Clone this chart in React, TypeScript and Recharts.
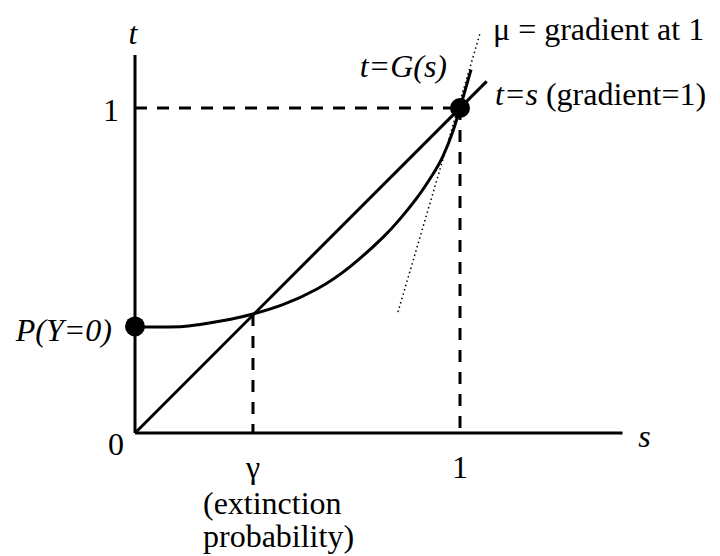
import React from 'react';
import { ComposedChart, Line, XAxis, YAxis, ReferenceLine, ReferenceDot } from 'recharts';

// G(s) curve
const gS = [0, 0.05, 0.14, 0.194, 0.298, 0.363, 0.455, 0.56, 0.662, 0.763, 0.815, 0.868, 0.917, 0.948, 0.978, 1, 1.034];
const gT = [0.328, 0.326, 0.327, 0.333, 0.351, 0.366, 0.395, 0.443, 0.512, 0.602, 0.658, 0.724, 0.797, 0.853, 0.928, 1, 1.118];
// t = s line
const identityS = [0, 1.082];
// tangent at 1 (dotted)
const tangentS = [0.809, 1.062];
const tangentT = [0.372, 1.231];

const gamma = 0.363;
const gAtGamma = 0.366;
const p0 = 0.328;

const xTicks = [gamma, 1];
const xTickLabels = ['γ', '1'];
const yTicks = [0, 1];
const yTickLabels = ['0', '1'];

const xMax = 1.5;
const yAxisTop = 1.163;
const yMax = 1.26;

const gData = gS.map((s, i) => ({ s, t: gT[i] }));
const idData = identityS.map((s) => ({ s, t: s }));
const tanData = tangentS.map((s, i) => ({ s, t: tangentT[i] }));

const T = (p: any) => (
  <text x={p.x} y={p.y} textAnchor={p.anchor || 'start'} style={{ fontFamily: 'Liberation Serif', fontSize: 32 }}>
    {p.children}
  </text>
);

const XTick = (props: any) => {
  const { x, y, payload } = props;
  const i = xTicks.indexOf(payload.value);
  const label = xTickLabels[i];
  return (
    <g>
      <T x={x} y={y + 37} anchor="middle">{label}</T>
      {label === 'γ' && <T x={x - 50} y={y + 73}>(extinction</T>}
      {label === 'γ' && <T x={x - 50} y={y + 106}>probability)</T>}
    </g>
  );
};

const YTick = (props: any) => {
  const { x, y, payload } = props;
  const i = yTicks.indexOf(payload.value);
  const label = yTickLabels[i];
  const dx = label === '0' ? -11 : -16;
  const dy = label === '0' ? 22 : 13;
  return <T x={x + dx} y={y + dy} anchor="middle">{label}</T>;
};

const txt = (dx: number, dy: number, anchor: string, children: React.ReactNode) => (props: any) => {
  const vb = props.viewBox || {};
  return <T x={vb.x + dx} y={vb.y + dy} anchor={anchor}>{children}</T>;
};

export default function App() {
  return (
    <div style={{ position: 'absolute', left: 0, top: 0, background: '#fff' }}>
      <ComposedChart width={720} height={556} margin={{ top: 23.5, right: 97.5, bottom: 93, left: 75 }}>
        <XAxis
          type="number"
          dataKey="s"
          domain={[0, xMax]}
          ticks={xTicks}
          interval={0}
          tick={XTick}
          tickLine={false}
          axisLine={{ stroke: '#000', strokeWidth: 3 }}
          allowDataOverflow
        />
        <YAxis
          type="number"
          dataKey="t"
          domain={[0, yMax]}
          ticks={yTicks}
          interval={0}
          tick={YTick}
          tickLine={false}
          axisLine={false}
          allowDataOverflow
        />
        <ReferenceLine segment={[{ x: 0, y: 0 }, { x: 0, y: yAxisTop }]} stroke="#000" strokeWidth={3} />
        <ReferenceLine segment={[{ x: 0, y: 1 }, { x: 1, y: 1 }]} stroke="#000" strokeWidth={3} strokeDasharray="12 10" />
        <ReferenceLine segment={[{ x: 1, y: 1 }, { x: 1, y: 0 }]} stroke="#000" strokeWidth={3} strokeDasharray="12 10" />
        <ReferenceLine segment={[{ x: gamma, y: gAtGamma }, { x: gamma, y: 0 }]} stroke="#000" strokeWidth={3} strokeDasharray="12 10" />
        <Line data={tanData} dataKey="t" type="linear" stroke="#000" strokeWidth={1.5} strokeDasharray="1.5 3" dot={false} isAnimationActive={false} />
        <Line data={idData} dataKey="t" type="linear" stroke="#000" strokeWidth={3} dot={false} isAnimationActive={false} />
        <Line data={gData} dataKey="t" type="natural" stroke="#000" strokeWidth={3} dot={false} isAnimationActive={false} />
        <ReferenceDot x={0} y={p0} r={10} fill="#000" stroke="none" />
        <ReferenceDot x={1} y={1} r={10} fill="#000" stroke="none" />
        <ReferenceDot x={0} y={p0} r={0} stroke="none" label={txt(-23, 15, 'end', <tspan fontStyle="italic">P(Y=0)</tspan>)} />
        <ReferenceDot x={0} y={yAxisTop} r={0} stroke="none" label={txt(-2, -11, 'middle', <tspan fontStyle="italic">t</tspan>)} />
        <ReferenceDot x={xMax} y={0} r={0} stroke="none" label={txt(22, 14, 'middle', <tspan fontStyle="italic">s</tspan>)} />
        <ReferenceDot x={1} y={1} r={0} stroke="none" label={txt(-13, -31, 'end', <tspan fontStyle="italic">t=G(s)</tspan>)} />
        <ReferenceDot x={1} y={1} r={0} stroke="none" label={txt(35, -3, 'start', <><tspan fontStyle="italic">t=s</tspan><tspan> (gradient=1)</tspan></>)} />
        <ReferenceDot x={1} y={1} r={0} stroke="none" label={txt(33, -68, 'start', 'μ = gradient at 1')} />
      </ComposedChart>
    </div>
  );
}
